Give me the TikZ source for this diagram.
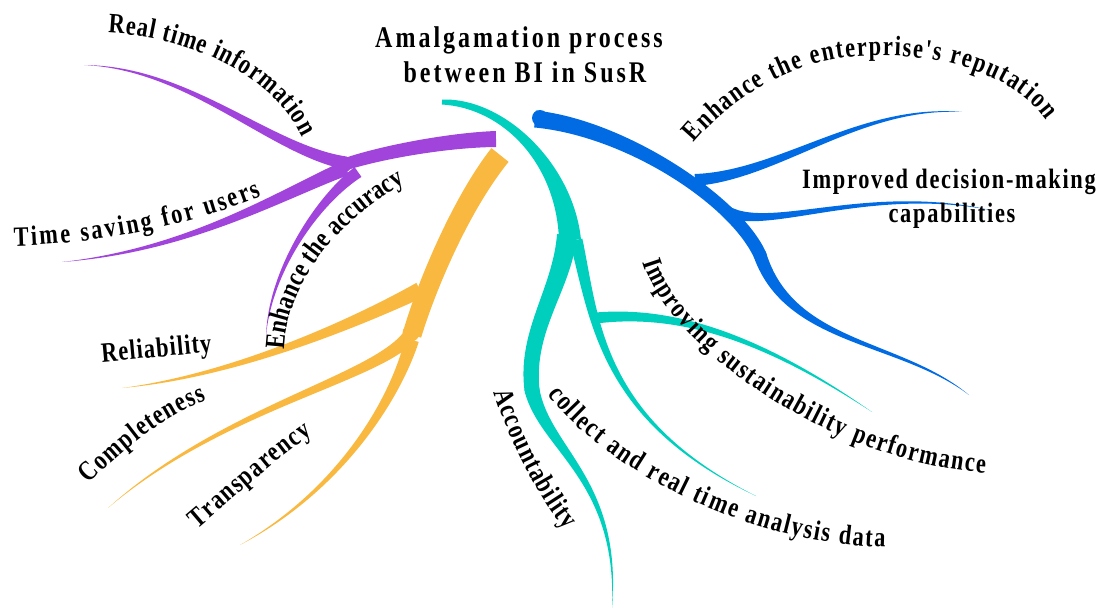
\documentclass[tikz,border=0pt]{standalone}
\usepackage{fontspec}
\usetikzlibrary{calc,decorations.text}
\newfontfamily\labfam[FakeStretch=0.8]{Liberation Serif}
\newcommand\labf{\labfam\bfseries\fontsize{28}{30}\selectfont}
\newcommand\titf{\labfam\bfseries\fontsize{30}{32}\selectfont\addfontfeature{LetterSpace=10}}
\definecolor{pp}{RGB}{160,68,219}
\definecolor{tt}{RGB}{0,207,189}
\definecolor{bb}{RGB}{0,107,227}
\definecolor{yy}{RGB}{249,184,64}
% tapered branch: colour, P0, C1, C2, P3, width at P0, width at P3
\newcommand\brnch[7]{%
 \pgfmathsetmacro\bra{#6/2}\pgfmathsetmacro\brd{#7/2}%
 \pgfmathsetmacro\brb{(2*\bra+\brd)/3}\pgfmathsetmacro\brc{(\bra+2*\brd)/3}%
 \fill[#1] ($(#2)!\bra pt!90:(#3)$) .. controls ($(#3)!\brb pt!-90:(#2)$) and ($(#4)!\brc pt!90:(#5)$) .. ($(#5)!\brd pt!-90:(#4)$)
   -- ($(#5)!\brd pt!90:(#4)$) .. controls ($(#4)!\brc pt!-90:(#5)$) and ($(#3)!\brb pt!90:(#2)$) .. ($(#2)!\bra pt!-90:(#3)$) -- cycle;}
\tikzset{lab/.style={decorate, decoration={text along path, text align={fit to path}}}}
\begin{document}
\begin{tikzpicture}[x=1pt,y=-1pt]
\useasboundingbox (0,0) rectangle (1101,610);
% purple
\brnch{pp}{496,139}{450,140}{380,152}{340,166}{16}{12}
\brnch{pp}{346,163}{270,150}{190,68}{84,65}{13}{0}
\brnch{pp}{346,168}{280,195}{190,250}{62,262}{15}{0}
\brnch{pp}{358,172}{318,200}{270,270}{266,336}{12}{0}
\fill[pp] (345,166) circle (6);
% yellow
\brnch{yy}{412,335}{425,290}{460,205}{500,155}{19}{22}
\brnch{yy}{420,290}{365,318}{240,375}{122,388}{16}{0}
\brnch{yy}{408,338}{370,380}{220,410}{108,508}{14}{0}
\brnch{yy}{412,340}{395,400}{340,490}{240,545}{14}{0}
\fill[yy] (411,333) circle (8.5);
% blue
\brnch{bb}{535,119}{625,128}{735,200}{760,255}{17}{13}
\brnch{bb}{760,255}{790,345}{900,340}{969,395}{13}{0}
\fill[bb] (760,255) circle (6.5);
\brnch{bb}{695,180}{780,175}{860,105}{962,112}{12}{0}
\brnch{bb}{728,212}{770,232}{870,185}{990,210}{11}{0}
\fill[bb] (540,118) circle (8);
% teal
\brnch{tt}{570,240}{565,165}{505,103}{442,102}{22}{5}
\brnch{tt}{567,235}{562,290}{525,330}{532,390}{20}{15}
\brnch{tt}{532,390}{545,450}{620,480}{612,608}{15}{0}
\fill[tt] (532,390) circle (7.5);
\brnch{tt}{576,240}{595,320}{600,420}{756,496}{13}{0}
\brnch{tt}{596,318}{690,308}{780,350}{872,412}{11}{0}
% titles
\node[font=\titf, anchor=base, inner sep=0] (t1) at (519,48) {Amalgamation process};
\node[font=\titf, anchor=base, inner sep=0] (t2) at (525,83) {between BI in SusR};
\node[font=\labf\addfontfeature{LetterSpace=6}, anchor=base, inner sep=0] (dm1) at (949,188) {Improved decision-making};
\node[font=\labf\addfontfeature{LetterSpace=6}, anchor=base, inner sep=0] (dm2) at (952,222) {capabilities};
% curved labels
\path[lab,decoration={text={|\labf|Real time information}}] (108,33) .. controls (180,36) and (270,70) .. (302,137);
\path[lab,decoration={text={|\labf|Time saving for users}}] (14,246) .. controls (100,244) and (190,225) .. (262,196);
\path[lab,decoration={text={|\labf|Enhance the accuracy}}] (284,350) .. controls (286,290) and (330,225) .. (405,183);
\path[lab,decoration={text={|\labf|Reliability}}] (102,362) -- (212,352);
\path[lab,decoration={text={|\labf|Completeness}}] (89,484) .. controls (125,448) and (165,415) .. (207,400);
\path[lab,decoration={text={|\labf|Transparency}}] (197,529) .. controls (235,497) and (275,460) .. (313,434);
\path[lab,decoration={text={|\labf|Accountability}}] (494,392) .. controls (505,430) and (540,502) .. (566,530);
\path[lab,decoration={text={|\labf|collect and real time analysis data}}] (548,394) .. controls (595,460) and (740,545) .. (885,547);
\path[lab,decoration={text={|\labf|Improving sustainability performance}}] (643,262) .. controls (665,340) and (820,460) .. (985,473);
\path[lab,decoration={text={|\labf|Enhance the enterprise's reputation}}] (694,143) .. controls (730,100) and (790,62) .. (850,57) .. controls (930,50) and (1010,70) .. (1046,120);
\end{tikzpicture}
\end{document}
